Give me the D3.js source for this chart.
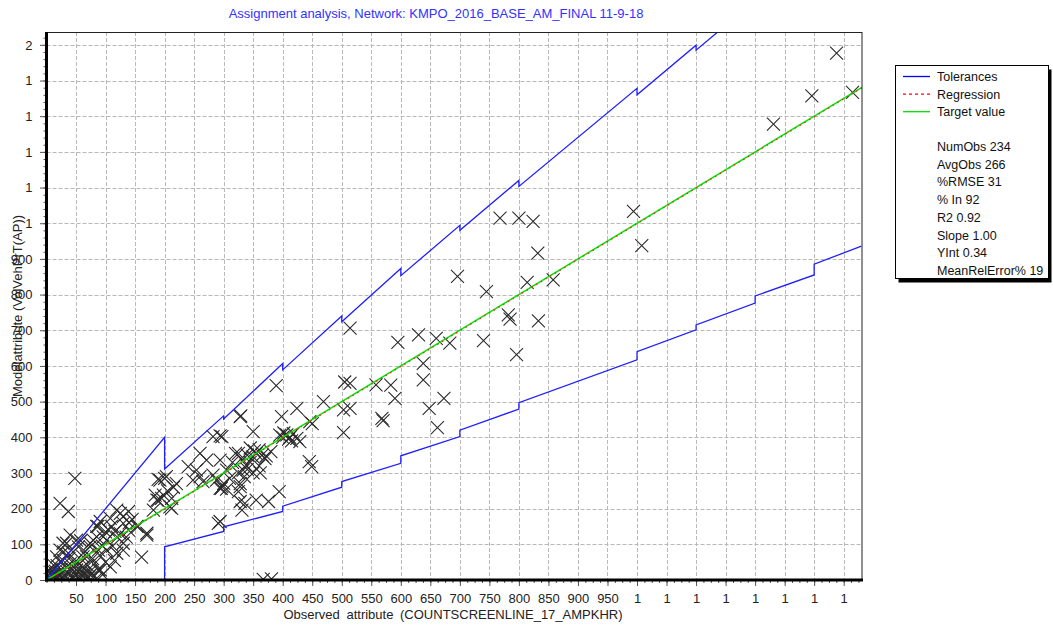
<!DOCTYPE html>
<html>
<head>
<meta charset="utf-8">
<script src="https://cdn.jsdelivr.net/npm/d3@7"></script>
<style>
  body { margin: 0; background: #fff; }
  text { font-family: Arial, "Liberation Sans", sans-serif; }
</style>
</head>
<body>
<svg id="chart" width="1053" height="625"></svg>
<script>
var width = 1053,
    height = 625;

// observed vs modelled volumes
var points = [
  [1338,1477],[1296,1357],[1365,1367],[1231,1278],[994,1033],[1008,937],
  [768,1014],[800,1014],[824,1005],[832,916],[696,851],[745,808],[814,834],[858,841],
  [782,743],[785,731],[833,726],[740,671],[796,632],[683,664],[660,677],[630,687],[595,666],[514,706],
  [514,551],[558,547],[583,546],[590,509],[638,607],[638,561],[673,509],[648,481],[568,453],[570,447],
  [662,427],[514,481],[505,555],[503,477],[503,413],
  [469,500],[389,545],[424,481],[398,458],[329,460],[350,416],[294,404],[446,444],[450,438],
  [407,407],[395,406],[424,397],[429,388],[412,400],[402,412],[418,410],[410,395],[400,400],[415,390],
  [445,332],[449,318],[376,220],[394,248],[355,224],[328,220],[331,196],[325,248],[297,262],[300,271],
  [330,340],[340,350],[345,330],[355,355],[350,345],[360,365],[365,350],[340,310],[325,300],[335,290],
  [350,300],[360,320],[315,330],[320,355],[370,340],[345,370],[352,362],[338,322],[328,270],[310,285],
  [362,300],[305,255],[328,458],[325,355],[333,308],[328,262],[336,215],[305,308],[282,402],[297,402],
  [380,360],[372,348],[367,2],[381,3],
  [254,308],[260,290],[271,336],[260,355],[294,336],[288,280],[294,257],[291,159],[248,280],[265,276],
  [282,294],[240,318],[296,257],[294,164],
  [192,280],[203,290],[198,238],[187,224],[212,229],[209,205],[200,285],[189,282],[184,238],[195,229],
  [189,223],[212,201],[181,196],[205,250],[215,260],[220,270],
  [170,126],[155,150],[161,64],[153,150],[170,131],
  [130,178],[119,196],[108,173],[91,164],[96,121],[79,112],[102,84],[119,75],[130,103],[139,140],
  [85,150],[74,93],[62,65],[45,79],[48,285],[23,215],[37,192],[139,192],[125,187],[130,159],
  [116,136],[130,84],[102,112],[85,121],[87,150],[74,103],[88,84],[54,93],[68,65],[88,28],[74,24],
  [145,170],[110,150],[100,135],[140,160],[120,120],[95,95],[105,140],[65,80],[78,60],[58,110],
  [112,95],[125,130],[135,120],[90,70],
  [34,103],[29,79],[17,65],[40,126],[51,112],[12,42],[23,51],[34,37],[51,28],[62,37],
  [82,47],[91,28],[108,37],[74,14],[6,19],[10,10],[15,25],[20,8],[25,30],[30,15],
  [35,22],[40,45],[45,10],[50,20],[55,45],[60,12],[5,5],[8,30],[12,15],[18,40],
  [22,18],[28,55],[32,8],[38,60],[42,30],[48,50],[52,8],[58,25],[65,15],[70,40],
  [3,12],[14,3],[26,4],[44,4],[66,5],[80,10],[95,15],[100,50],[115,55],[23,84],
  [28,103],[37,75],[8,2],[18,6],[30,3],[40,12],[56,4],[62,20],[72,8],[84,3],[2,25],[16,14]
];

// tolerance band (upper / lower), read at the band breaks
var upperTol = [[0,0],[200,400],[200,311],[300,460],[300,451],[400,607],[400,589],[500,740],[500,724],
  [600,873],[600,853],[700,994],[700,980],[800,1120],[800,1103],[1000,1378],[1000,1360],
  [1100,1499],[1100,1485],[1200,1624]];
var lowerTol = [[0,0],[200,0],[200,93],[300,136],[300,149],[400,192],[400,207],[500,260],[500,276],
  [600,327],[600,348],[700,402],[700,420],[800,479],[800,497],[1000,617],[1000,640],
  [1100,701],[1100,715],[1200,776],[1200,796],[1300,855],[1300,885],[1380,936]];

var regSlope = 1.00, regInt = 0.34;

var xTicks = d3.range(50, 1351, 50);
var xMinor = d3.range(0, 1381, 12.5);
var yTicks = d3.range(0, 1501, 100);
var yMinor = d3.range(0, 1536, 20);

var legendItems = [
  {name: 'Tolerances', color: '#0000ff', dash: null},
  {name: 'Regression', color: '#ff0000', dash: '3,3'},
  {name: 'Target value', color: '#00e000', dash: null}
];
var stats = ['NumObs 234','AvgObs 266','%RMSE 31','% In 92','R2 0.92','Slope 1.00','YInt 0.34','MeanRelError% 19'];

var pLeft = 46.5, pRight = 862, pTop = 32, pBottom = 580;

var x = d3.scaleLinear().domain([0, 1381]).range([pLeft, pRight]);
var y = d3.scaleLinear().domain([0, 1536]).range([pBottom, pTop]);

var fmt = function(d) { return d < 1000 ? d : Math.round(d / 1000); };

var svg = d3.select('#chart');
svg.append('rect').attr('width', width).attr('height', height).attr('fill', '#fff');

svg.append('defs').append('clipPath').attr('id', 'plot')
  .append('rect').attr('x', pLeft).attr('y', pTop).attr('width', pRight - pLeft).attr('height', pBottom - pTop);

// grid
var grid = svg.append('g').attr('stroke', '#b8b8b8').attr('stroke-dasharray', '4,2').attr('stroke-width', 1);
grid.selectAll('line.v').data(xTicks).enter().append('line')
  .attr('x1', d => Math.round(x(d)) + 0.5).attr('x2', d => Math.round(x(d)) + 0.5)
  .attr('y1', pTop).attr('y2', pBottom);
grid.selectAll('line.h').data(yTicks.filter(d => d > 0)).enter().append('line')
  .attr('y1', d => Math.round(y(d)) + 0.5).attr('y2', d => Math.round(y(d)) + 0.5)
  .attr('x1', pLeft).attr('x2', pRight);

var plot = svg.append('g').attr('clip-path', 'url(#plot)');

// observations
plot.selectAll('path.obs').data(points).enter().append('path')
  .attr('class', 'obs')
  .attr('transform', d => 'translate(' + x(d[0]) + ',' + y(d[1]) + ')')
  .attr('d', 'M-6.5,-6.5L6.5,6.5M-6.5,6.5L6.5,-6.5')
  .attr('stroke', '#2a2a2a').attr('stroke-width', 1.1).attr('fill', 'none');

var line = d3.line().x(d => x(d[0])).y(d => y(d[1]));

plot.append('path').datum(upperTol).attr('d', line)
  .attr('fill', 'none').attr('stroke', '#2020ff').attr('stroke-width', 1.3);
plot.append('path').datum(lowerTol).attr('d', line)
  .attr('fill', 'none').attr('stroke', '#2020ff').attr('stroke-width', 1.3);

plot.append('path').datum([[0, 0], [1381, 1381]]).attr('d', line)
  .attr('fill', 'none').attr('stroke', '#00e600').attr('stroke-width', 1.5);
plot.append('path').datum([[0, regInt], [1381, regSlope * 1381 + regInt]]).attr('d', line)
  .attr('fill', 'none').attr('stroke', '#ff2020').attr('stroke-width', 1.2)
  .attr('stroke-dasharray', '1.5,4').attr('transform', 'translate(0,0.7)');

// axes
var xAxis = svg.append('g').attr('transform', 'translate(0,' + pBottom + ')')
  .call(d3.axisBottom(x).tickValues(xTicks).tickSize(6).tickPadding(8).tickFormat(fmt));
svg.append('g').attr('transform', 'translate(0,' + pBottom + ')')
  .call(d3.axisBottom(x).tickValues(xMinor).tickSize(3).tickFormat(''))
  .select('.domain').remove();
var yAxis = svg.append('g').attr('transform', 'translate(' + pLeft + ',0)')
  .call(d3.axisLeft(y).tickValues(yTicks).tickSize(6.5).tickPadding(7.5).tickFormat(fmt));
svg.append('g').attr('transform', 'translate(' + pLeft + ',0)')
  .call(d3.axisLeft(y).tickValues(yMinor).tickSize(3).tickFormat(''))
  .select('.domain').remove();

svg.selectAll('.tick text').attr('font-size', 13).attr('fill', '#222')
  .attr('font-family', 'Arial, "Liberation Sans", sans-serif');
svg.selectAll('.tick line').attr('stroke', '#555');
xAxis.select('.domain').remove();
yAxis.select('.domain').remove();

// frame
svg.append('rect').attr('x', pLeft).attr('y', pTop + 0.5).attr('width', pRight - pLeft).attr('height', pBottom - pTop)
  .attr('fill', 'none').attr('stroke', '#222').attr('stroke-width', 1);
svg.append('line').attr('x1', pLeft).attr('x2', pLeft).attr('y1', pTop).attr('y2', pBottom + 1.5)
  .attr('stroke', '#000').attr('stroke-width', 3);
svg.append('line').attr('x1', pLeft - 1.5).attr('x2', pRight + 1).attr('y1', pBottom).attr('y2', pBottom)
  .attr('stroke', '#000').attr('stroke-width', 3);

// titles
svg.append('text').attr('x', 436).attr('y', 18).attr('text-anchor', 'middle')
  .attr('font-size', 13).attr('fill', '#3232ff')
  .text('Assignment analysis, Network: KMPO_2016_BASE_AM_FINAL 11-9-18');
svg.append('text').attr('x', 453).attr('y', 619).attr('text-anchor', 'middle')
  .attr('font-size', 13).attr('fill', '#222').attr('word-spacing', 3)
  .text('Observed attribute (COUNTSCREENLINE_17_AMPKHR)');
svg.append('text').attr('transform', 'translate(22,306) rotate(-90)').attr('text-anchor', 'middle')
  .attr('font-size', 13).attr('fill', '#222')
  .text('Modelattribute (VolVehPrT(AP))');

// legend
var lg = svg.append('g');
lg.append('rect').attr('x', 898.5).attr('y', 69.5).attr('width', 153).attr('height', 213).attr('fill', '#000');
lg.append('rect').attr('x', 895.5).attr('y', 65.5).attr('width', 153).attr('height', 213)
  .attr('fill', '#fff').attr('stroke', '#000').attr('stroke-width', 1);

var li = lg.selectAll('g.item').data(legendItems).enter().append('g')
  .attr('transform', (d, i) => 'translate(0,' + (76.5 + i * 17.6) + ')');
li.append('line').attr('x1', 903).attr('x2', 930).attr('y1', 0).attr('y2', 0)
  .attr('stroke', d => d.color).attr('stroke-width', 1.3)
  .attr('stroke-dasharray', d => d.dash);
li.append('text').attr('x', 937).attr('y', 4.5).attr('font-size', 12.5).attr('fill', '#111')
  .text(d => d.name);

lg.selectAll('text.stat').data(stats).enter().append('text')
  .attr('class', 'stat')
  .attr('x', 937).attr('y', (d, i) => 151 + i * 17.7)
  .attr('font-size', 12.5).attr('fill', '#111')
  .text(d => d);
</script>
</body>
</html>
